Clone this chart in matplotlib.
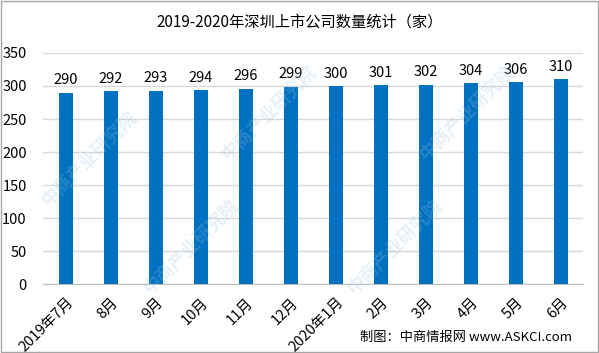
import matplotlib
matplotlib.use("Agg")
import matplotlib.pyplot as plt
from matplotlib.patches import Rectangle

plt.rcParams['font.family'] = ['Noto Sans CJK SC', 'DejaVu Sans']

months = ["2019年7月", "8月", "9月", "10月", "11月", "12月",
          "2020年1月", "2月", "3月", "4月", "5月", "6月"]
counts = [290, 292, 293, 294, 296, 299, 300, 301, 302, 304, 306, 310]
yticks = [0, 50, 100, 150, 200, 250, 300, 350]

fig = plt.figure(figsize=(5.99, 3.53), dpi=100)
ax = fig.add_axes([0.0726, 0.195, 0.9015, 0.655])

x = range(len(months))
ax.bar(x, counts, width=0.31, color="#0070C0", zorder=3)
for i, v in zip(x, counts):
    ax.text(i, v + 8, str(v), ha="center", va="bottom", fontsize=10.5, color="#000000")

ax.set_ylim(0, 350)
ax.set_xlim(-0.5, len(months) - 0.5)
ax.set_yticks(yticks)
ax.set_yticklabels([str(t) for t in yticks], fontsize=10.5)
ax.set_xticks(list(x))
ax.set_xticklabels(months, rotation=45, ha="right", rotation_mode="anchor", fontsize=10.5)
ax.tick_params(axis="both", length=0)
ax.tick_params(axis="x", pad=8)
ax.tick_params(axis="y", pad=12)
ax.yaxis.grid(True, color="#D9D9D9", linewidth=1, zorder=0)
for s in ["top", "right", "left"]:
    ax.spines[s].set_visible(False)
ax.spines["bottom"].set_color("#BFBFBF")

fig.text(0.5, 0.938, "2019-2020年深圳上市公司数量统计（家）", ha="center", va="center", fontsize=11)
fig.text(0.955, 0.045, "制图：中商情报网 www.ASKCI.com", ha="right", va="center", fontsize=9.5)

# faint watermarks, kept inside the frame
for wx, wy in [(0.15, 0.55), (0.45, 0.68), (0.78, 0.68), (0.32, 0.3), (0.66, 0.3)]:
    fig.text(wx, wy, "中商产业研究院", rotation=45, fontsize=13, color="#9DC3E6",
             alpha=0.25, ha="center", va="center", fontweight="bold")

fig.patches.append(Rectangle((0.002, 0.003), 0.996, 0.994, transform=fig.transFigure,
                             fill=False, edgecolor="#A6A6A6", linewidth=1))

fig.savefig("out.png", dpi=100)
